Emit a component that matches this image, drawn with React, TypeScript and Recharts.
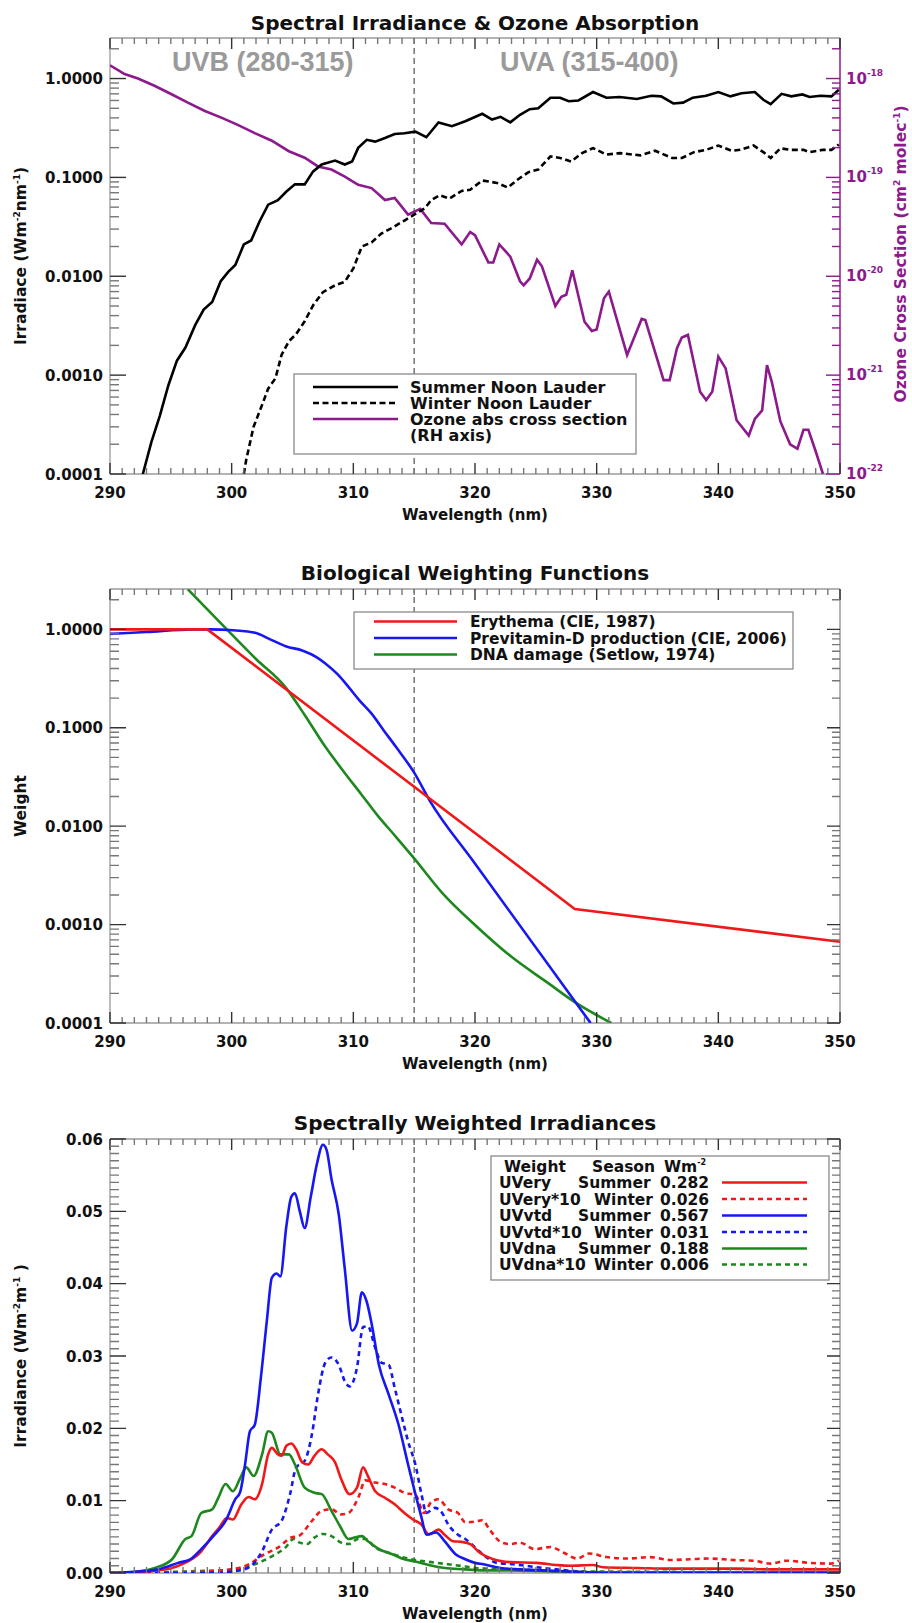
import React from 'react';
import { LineChart, Line, XAxis, YAxis, ReferenceLine } from 'recharts';

type Pt = { wl: number; v: number };
const pts = (a: number[][]): Pt[] => a.map(([wl, v]) => ({ wl, v }));

// ---------------- Panel 1: spectral irradiance (W m-2 nm-1) & ozone cross section (cm2 molec-1)
const summerNoonLauder = pts([
  [292.7, 1.0e-4], [293.4, 2.1e-4], [294.1, 3.9e-4], [294.8, 7.9e-4], [295.5, 1.4e-3], [296.2, 1.9e-3],
  [297.0, 3.2e-3], [297.7, 4.6e-3], [298.4, 5.5e-3], [299.1, 8.9e-3], [299.7, 0.011], [300.3, 0.013],
  [301.0, 0.021], [301.6, 0.023], [302.3, 0.036], [303.0, 0.053], [303.8, 0.059], [304.5, 0.072],
  [305.2, 0.085], [306.0, 0.085], [306.7, 0.115], [307.4, 0.135], [308.5, 0.148], [309.3, 0.135],
  [309.9, 0.145], [310.4, 0.199], [311.1, 0.24], [311.8, 0.23], [312.6, 0.25], [313.4, 0.275],
  [314.2, 0.28], [315.1, 0.29], [316.0, 0.255], [317.0, 0.36], [318.1, 0.33], [319.2, 0.37],
  [320.6, 0.44], [321.4, 0.385], [322.1, 0.41], [322.9, 0.36], [323.7, 0.43], [324.5, 0.49],
  [325.2, 0.5], [326.2, 0.64], [327.0, 0.64], [327.7, 0.59], [328.5, 0.6], [329.7, 0.73],
  [330.8, 0.64], [331.9, 0.65], [333.3, 0.62], [334.5, 0.67], [335.3, 0.66], [336.3, 0.56],
  [337.1, 0.57], [337.9, 0.64], [339.0, 0.67], [340.0, 0.73], [341.0, 0.66], [341.9, 0.71],
  [343.0, 0.73], [343.7, 0.61], [344.3, 0.55], [345.2, 0.7], [346.0, 0.66], [346.9, 0.69],
  [347.5, 0.65], [348.4, 0.67], [349.3, 0.66], [349.9, 0.77],
]);
const winterNoonLauder = pts([
  [301.0, 1.0e-4], [301.2, 1.4e-4], [301.8, 3.0e-4], [302.5, 5.0e-4], [303.0, 7.3e-4], [303.6, 9.3e-4],
  [304.1, 1.6e-3], [304.7, 2.2e-3], [305.3, 2.6e-3], [306.0, 3.5e-3], [306.7, 5.1e-3], [307.5, 6.9e-3],
  [308.5, 8.1e-3], [309.3, 8.8e-3], [310.0, 0.012], [310.7, 0.02], [311.5, 0.022], [312.3, 0.027],
  [313.2, 0.031], [314.1, 0.036], [315.0, 0.042], [315.9, 0.049], [316.4, 0.059], [317.1, 0.066],
  [317.9, 0.061], [318.9, 0.073], [319.6, 0.075], [320.6, 0.093], [321.8, 0.088], [322.7, 0.079],
  [323.6, 0.097], [324.4, 0.113], [325.2, 0.12], [326.2, 0.163], [327.0, 0.157], [327.9, 0.145],
  [328.8, 0.176], [329.7, 0.198], [330.8, 0.17], [331.9, 0.176], [333.6, 0.167], [334.8, 0.186],
  [336.2, 0.157], [337.0, 0.157], [338.0, 0.18], [339.0, 0.19], [340.0, 0.21], [341.1, 0.186],
  [341.8, 0.19], [342.9, 0.21], [343.7, 0.18], [344.3, 0.157], [345.1, 0.197], [345.9, 0.19],
  [347.0, 0.19], [347.5, 0.18], [348.6, 0.19], [349.3, 0.19], [349.9, 0.215],
]);
const ozoneCrossSection = pts([
  [290.0, 1.36e-18], [291.2, 1.11e-18], [292.3, 1.0e-18], [293.7, 8.4e-19], [295.1, 6.9e-19],
  [296.4, 5.7e-19], [297.8, 4.7e-19], [299.2, 4.0e-19], [300.5, 3.4e-19], [301.9, 2.8e-19],
  [303.3, 2.35e-19], [304.7, 1.84e-19], [306.0, 1.58e-19], [307.1, 1.29e-19], [308.2, 1.2e-19],
  [309.3, 1.02e-19], [310.4, 8.4e-20], [311.5, 7.8e-20], [312.6, 5.9e-20], [313.4, 6.2e-20],
  [314.5, 4.2e-20], [315.5, 4.8e-20], [316.4, 3.45e-20], [317.5, 3.4e-20], [318.9, 2.1e-20],
  [319.6, 2.8e-20], [320.0, 2.6e-20], [321.1, 1.38e-20], [321.5, 1.38e-20], [322.0, 2.1e-20],
  [322.9, 1.58e-20], [323.7, 8.9e-21], [324.0, 8.1e-21], [324.5, 9.5e-21], [325.1, 1.47e-20],
  [325.5, 1.26e-20], [326.6, 5.0e-21], [327.1, 6.2e-21], [327.5, 6.5e-21], [328.0, 1.15e-20],
  [329.0, 3.47e-21], [329.6, 2.8e-21], [330.0, 2.9e-21], [330.6, 6.0e-21], [331.0, 7.0e-21],
  [332.5, 1.6e-21], [333.2, 2.6e-21], [333.7, 3.7e-21], [334.0, 3.6e-21], [335.5, 8.9e-22],
  [336.0, 8.9e-22], [336.6, 1.87e-21], [337.0, 2.4e-21], [337.5, 2.55e-21], [338.5, 6.8e-22],
  [339.0, 5.6e-22], [339.5, 6.8e-22], [340.0, 1.54e-21], [340.6, 1.17e-21], [341.5, 3.5e-22],
  [342.5, 2.45e-22], [343.0, 3.6e-22], [343.6, 4.4e-22], [344.0, 1.26e-21], [344.4, 8.5e-22],
  [345.1, 3.4e-22], [345.9, 2.0e-22], [346.5, 1.8e-22], [347.0, 2.8e-22], [347.4, 2.8e-22],
  [348.0, 1.7e-22], [348.6, 1.0e-22],
]);

// ---------------- Panel 2: biological weighting functions
const erythemaCIE1987 = pts([[290, 1.0], [298, 1.0], [328.2, 1.44e-3], [350, 6.7e-4]]);
const previtaminD = pts([
  [290, 0.9], [293, 0.94], [296.8, 1.0], [298.2, 1.0], [300.1, 0.98], [302.0, 0.92], [303.0, 0.81],
  [304.5, 0.67], [305.8, 0.61], [307.0, 0.52], [307.7, 0.45], [308.7, 0.35], [309.6, 0.26],
  [310.5, 0.19], [311.5, 0.139], [312.5, 0.094], [313.5, 0.064], [315.0, 0.035], [316.3, 0.018],
  [319.8, 4.5e-3], [329.5, 1.0e-4],
]);
const dnaSetlow = pts([
  [296.4, 2.55], [299.6, 1.0], [302.0, 0.5], [304.4, 0.26], [306.0, 0.135], [307.7, 0.064],
  [309.2, 0.036], [310.6, 0.0215], [312.0, 0.0128], [313.5, 7.8e-3], [315.0, 4.7e-3],
  [317.3, 2.1e-3], [320.2, 9.4e-4], [323.0, 4.7e-4], [325.9, 2.6e-4], [328.3, 1.6e-4], [331.2, 1.0e-4],
]);

// ---------------- Panel 3: spectrally weighted irradiances
const uveSummer = pts([
  [290, 0], [293.7, 0.0003], [295.9, 0.0012], [297.5, 0.003], [298.4, 0.0051], [299.0, 0.0063],
  [299.6, 0.0076], [300.1, 0.0074], [300.8, 0.0095], [301.4, 0.0105], [301.9, 0.0102], [302.5, 0.0123],
  [303.0, 0.0164], [303.3, 0.0173], [303.8, 0.0164], [304.1, 0.0162], [304.5, 0.0176], [304.9, 0.0179],
  [305.3, 0.0171], [305.8, 0.0153], [306.3, 0.015], [306.8, 0.0162], [307.4, 0.0171], [307.9, 0.0164],
  [308.5, 0.0153], [309.0, 0.013], [309.7, 0.0109], [310.3, 0.0118], [310.8, 0.0146], [311.2, 0.0134],
  [311.8, 0.0113], [312.6, 0.0104], [313.4, 0.0095], [314.2, 0.0083], [314.9, 0.0074], [315.6, 0.0067],
  [316.2, 0.0053], [317.0, 0.006], [317.5, 0.0053], [318.2, 0.0044], [318.9, 0.0043], [319.6, 0.004],
  [320.4, 0.0028], [321.5, 0.0019], [322.9, 0.0015], [325.1, 0.0014], [326.7, 0.0011], [327.8, 0.001],
  [329.7, 0.0011], [330.5, 0.0008], [333.3, 0.0007], [336.0, 0.0006], [338.8, 0.0006], [341.5, 0.0006],
  [344.3, 0.0005], [347.0, 0.0005], [350, 0.0005],
]);
const uveWinter10 = pts([
  [290, 0], [297.8, 0.0002], [300.0, 0.0005], [301.4, 0.0012], [302.7, 0.0026], [303.8, 0.0035],
  [304.9, 0.0049], [305.5, 0.0051], [306.6, 0.0072], [307.4, 0.0086], [308.2, 0.0088], [309.0, 0.0081],
  [309.6, 0.0083], [310.4, 0.0104], [311.0, 0.0128], [311.8, 0.0125], [312.6, 0.0123], [313.4, 0.0118],
  [314.2, 0.0111], [315.1, 0.0108], [315.8, 0.0083], [316.4, 0.0098], [317.0, 0.0102], [317.8, 0.0088],
  [318.6, 0.0083], [319.2, 0.007], [320.0, 0.0071], [320.6, 0.0073], [321.2, 0.006], [322.2, 0.0042],
  [322.9, 0.004], [323.7, 0.0042], [324.9, 0.0033], [326.2, 0.0036], [327.3, 0.0028], [328.4, 0.002],
  [329.4, 0.0027], [330.8, 0.0022], [332.5, 0.002], [334.4, 0.0022], [336.0, 0.0018], [337.7, 0.0019],
  [339.3, 0.002], [341.2, 0.0018], [342.9, 0.0017], [344.3, 0.0013], [345.6, 0.0017], [347.5, 0.0014],
  [349.2, 0.0013], [349.9, 0.0017],
]);
const uvdSummer = pts([
  [290, 0], [292.3, 0.0002], [294.2, 0.0006], [295.6, 0.0014], [296.6, 0.0019], [297.5, 0.0033],
  [298.6, 0.0053], [299.5, 0.0072], [300.3, 0.0102], [300.7, 0.0112], [301.1, 0.015], [301.5, 0.0196],
  [301.9, 0.0205], [302.4, 0.027], [302.9, 0.035], [303.3, 0.0408], [303.7, 0.0414], [304.0, 0.041],
  [304.5, 0.048], [304.9, 0.052], [305.2, 0.0525], [305.6, 0.05], [306.0, 0.0477], [306.5, 0.052],
  [307.0, 0.0565], [307.5, 0.0592], [307.8, 0.0585], [308.2, 0.0545], [308.8, 0.0496], [309.3, 0.042],
  [309.9, 0.0335], [310.3, 0.0345], [310.7, 0.0388], [311.1, 0.0375], [311.5, 0.0345], [312.1, 0.0288],
  [312.9, 0.0247], [313.7, 0.0206], [314.5, 0.015], [315.1, 0.0109], [315.6, 0.0077], [316.0, 0.0053],
  [316.8, 0.0056], [317.5, 0.0044], [318.4, 0.0026], [319.2, 0.0019], [320.0, 0.0014], [320.7, 0.0012],
  [322.1, 0.0007], [323.7, 0.0005], [326.4, 0.0003], [329.2, 0.0001], [330.5, 0], [350, 0],
]);
const uvdWinter10 = pts([
  [290, 0], [298.0, 0], [300.5, 0.0003], [301.6, 0.001], [302.5, 0.003], [303.3, 0.006], [304.1, 0.0072],
  [304.8, 0.0109], [305.3, 0.0146], [306.0, 0.0155], [306.6, 0.0192], [307.1, 0.0247], [307.7, 0.0291],
  [308.2, 0.0298], [308.8, 0.0288], [309.3, 0.0265], [309.7, 0.0258], [310.3, 0.0284], [310.8, 0.034],
  [311.2, 0.0341], [311.8, 0.0311], [312.3, 0.0291], [312.9, 0.0288], [313.4, 0.0256], [314.0, 0.0215],
  [314.5, 0.0182], [315.1, 0.015], [315.6, 0.0109], [316.0, 0.0083], [316.7, 0.009], [317.3, 0.0083],
  [317.8, 0.0067], [318.6, 0.0053], [319.2, 0.0047], [319.7, 0.004], [320.7, 0.0025], [321.8, 0.0014],
  [323.2, 0.0012], [325.1, 0.0008], [326.7, 0.0005], [327.8, 0.0003], [330.5, 0], [350, 0],
]);
const dnaSummer = pts([
  [290, 0], [292.3, 0.0002], [293.7, 0.0007], [295.1, 0.0019], [296.2, 0.0047], [296.7, 0.0051],
  [297.5, 0.0083], [298.4, 0.0088], [298.9, 0.0104], [299.5, 0.0123], [300.1, 0.0113], [300.7, 0.0131],
  [301.2, 0.0146], [301.8, 0.0134], [302.5, 0.0164], [303.0, 0.0196], [303.3, 0.0194], [304.0, 0.0164],
  [304.7, 0.0164], [305.2, 0.015], [306.0, 0.0118], [306.8, 0.0111], [307.4, 0.0109], [308.2, 0.0086],
  [308.9, 0.0065], [309.6, 0.0047], [310.1, 0.0049], [310.7, 0.0051], [311.2, 0.0044], [312.1, 0.0033],
  [313.2, 0.0026], [314.2, 0.0019], [315.1, 0.0016], [316.2, 0.0011], [317.5, 0.0007], [319.2, 0.0005],
  [320.0, 0.0004], [325.0, 0.0003], [330.0, 0.0001], [350, 0.0001],
]);
const dnaWinter10 = pts([
  [290, 0], [297.8, 0.0003], [300.5, 0.0005], [301.9, 0.0012], [303.3, 0.0023], [304.4, 0.0035],
  [305.1, 0.0047], [305.6, 0.0042], [306.2, 0.004], [306.8, 0.0049], [307.5, 0.0054], [308.2, 0.0051],
  [309.0, 0.0042], [309.6, 0.004], [310.4, 0.0047], [311.0, 0.0047], [311.8, 0.0035], [312.9, 0.0028],
  [314.0, 0.0022], [315.1, 0.0018], [316.4, 0.0015], [317.8, 0.0012], [319.2, 0.0009], [320.0, 0.0007],
  [325.0, 0.0004], [330.0, 0.0002], [350, 0.0001],
]);

// ---------------- Axes / labels
const xMajorTicks = [290, 300, 310, 320, 330, 340, 350];
const xTicks: number[] = [];
for (let w = 290; w <= 350; w++) xTicks.push(w);
const irrMajorTicks = [0.0001, 0.001, 0.01, 0.1, 1];
const ozoneMajorTicks = [1e-22, 1e-21, 1e-20, 1e-19, 1e-18];

const legend1Labels = ['Summer Noon Lauder', 'Winter Noon Lauder', 'Ozone abs cross section', '(RH axis)'];
const legend2Labels = ['Erythema (CIE, 1987)', 'Previtamin-D production (CIE, 2006)', 'DNA damage (Setlow, 1974)'];
const legend3Weights = ['UVery', 'UVery*10', 'UVvtd', 'UVvtd*10', 'UVdna', 'UVdna*10'];
const legend3Seasons = ['Summer', 'Winter', 'Summer', 'Winter', 'Summer', 'Winter'];
const legend3Values = ['0.282', '0.026', '0.567', '0.031', '0.188', '0.006'];

// ---------------- Styles / layout
const FONT = '"DejaVu Sans", "Liberation Sans", sans-serif';
const PURPLE = '#8c1a8c';
const RED = '#f01818';
const BLUE = '#1717f2';
const GREEN = '#1e881e';
const BOX = '#9a9a9a';
const TK = '#333';
const TKm = '#777';
const PLOT_L = 110;
const PLOT_R = 840;
const LW = 2.6;
const LOG_MAX = 2.57;
const LIN_MAX = 0.06;

const logMinors = (majors: number[], max: number) => {
  const out: number[] = [];
  majors.forEach((d) => {
    for (let k = 1; k <= 9; k++) {
      const v = d * k;
      if (v <= max * 1.0000001) out.push(v);
    }
  });
  return out;
};
const isDecade = (v: number) => Math.abs(Math.log10(v) - Math.round(Math.log10(v))) < 1e-6;
const isHundredth = (v: number) => Math.abs(v * 100 - Math.round(v * 100)) < 1e-6;

const irrTicks = logMinors(irrMajorTicks, LOG_MAX);
const ozTicks = logMinors(ozoneMajorTicks, LOG_MAX * 1e-18);
const linTicks: number[] = [];
for (let i = 0; i <= 60; i++) linTicks.push(i / 1000);

// ---- axis tick renderers: inward marks on both frame sides + bold labels (positions from Recharts scales)
const makeXTick = (top: number, bottom: number) => (props: any) => {
  const { x, payload } = props;
  const v = payload.value as number;
  const major = xMajorTicks.includes(v);
  const len = major ? 11 : 6;
  return (
    <g>
      <path d={`M${x},${bottom}V${bottom - len}M${x},${top}V${top + len}`} stroke={major ? TK : TKm} strokeWidth={1.4} fill="none" />
      {major && (
        <text x={x} y={bottom + 24} textAnchor="middle" fontFamily={FONT} fontWeight="bold" fontSize={15} fill="#111">{v}</text>
      )}
    </g>
  );
};
const makeYTick = (isMajor: (v: number) => boolean, fmt: (v: number) => string, mirror: boolean) => (props: any) => {
  const { y, payload } = props;
  const v = payload.value as number;
  const major = isMajor(v);
  let d = `M${PLOT_L},${y}H${PLOT_L + (major ? 16 : 9)}`;
  if (mirror) d += `M${PLOT_R},${y}H${PLOT_R - (major ? 13 : 8)}`;
  return (
    <g>
      <path d={d} stroke={major ? TK : TKm} strokeWidth={1.4} fill="none" />
      {major && (
        <text x={103} y={y + 5.5} textAnchor="end" fontFamily={FONT} fontWeight="bold" fontSize={15} fill="#111">{fmt(v)}</text>
      )}
    </g>
  );
};
const ozoneTick = (props: any) => {
  const { y, payload } = props;
  const v = payload.value as number;
  const major = isDecade(v);
  const e = Math.round(Math.log10(v));
  return (
    <g>
      <path d={`M${PLOT_R},${y}H${PLOT_R - (major ? 14 : 8)}`} stroke={PURPLE} strokeWidth={1.4} fill="none" />
      {major && (
        <text x={846} y={y + 5} textAnchor="start" fontFamily={FONT} fontWeight="bold" fontSize={15} fill={PURPLE}>
          10<tspan dy={-8} fontSize={9}>{String(e)}</tspan>
        </text>
      )}
    </g>
  );
};

const txt = { fontFamily: FONT, fontWeight: 'bold' as const };
const hiddenAxis = { tickLine: false, axisLine: false, tickSize: 0, tickMargin: 0, interval: 0 as const };

const frameLines = (yMin: number, yMax: number, rightColor: string) => [
  <ReferenceLine key="fl" yAxisId="left" x={290} stroke={BOX} strokeWidth={1.3} ifOverflow="visible" />,
  <ReferenceLine key="fb" yAxisId="left" y={yMin} stroke={BOX} strokeWidth={1.3} ifOverflow="visible" />,
  <ReferenceLine key="ft" yAxisId="left" y={yMax} stroke={BOX} strokeWidth={1.3} ifOverflow="visible" />,
  <ReferenceLine key="fr" yAxisId="left" x={350} stroke={rightColor} strokeWidth={1.5} ifOverflow="visible" />,
  <ReferenceLine key="uvb" yAxisId="left" x={315} stroke="#6a6a6a" strokeWidth={1.4} strokeDasharray="6 4" />,
];

function Panel1() {
  return (
    <LineChart width={912} height={540} margin={{ top: 38, right: 0, left: 0, bottom: 0 }}>
      <XAxis type="number" dataKey="wl" domain={[290, 350]} allowDataOverflow ticks={xTicks} height={66} tick={makeXTick(38, 474)} {...hiddenAxis} />
      <YAxis yAxisId="left" type="number" scale="log" domain={[1e-4, LOG_MAX]} allowDataOverflow ticks={irrTicks} width={110}
        tick={makeYTick(isDecade, (v) => v.toFixed(4), false)} {...hiddenAxis} />
      <YAxis yAxisId="right" orientation="right" type="number" scale="log" domain={[1e-22, LOG_MAX * 1e-18]} allowDataOverflow
        ticks={ozTicks} width={72} tick={ozoneTick} {...hiddenAxis} />
      {frameLines(1e-4, LOG_MAX, PURPLE)}
      <Line yAxisId="right" data={ozoneCrossSection} dataKey="v" type="linear" stroke={PURPLE} strokeWidth={LW} dot={false} isAnimationActive={false} />
      <Line yAxisId="left" data={winterNoonLauder} dataKey="v" type="linear" stroke="#000" strokeWidth={LW} strokeDasharray="6 3.5" dot={false} isAnimationActive={false} />
      <Line yAxisId="left" data={summerNoonLauder} dataKey="v" type="linear" stroke="#000" strokeWidth={LW} dot={false} isAnimationActive={false} />
    </LineChart>
  );
}

function Panel2() {
  return (
    <LineChart width={912} height={540} margin={{ top: 44, right: 72, left: 0, bottom: 0 }}>
      <XAxis type="number" dataKey="wl" domain={[290, 350]} allowDataOverflow ticks={xTicks} height={62} tick={makeXTick(44, 478)} {...hiddenAxis} />
      <YAxis yAxisId="left" type="number" scale="log" domain={[1e-4, LOG_MAX]} allowDataOverflow ticks={irrTicks} width={110}
        tick={makeYTick(isDecade, (v) => v.toFixed(4), true)} {...hiddenAxis} />
      {frameLines(1e-4, LOG_MAX, BOX)}
      <Line yAxisId="left" data={dnaSetlow} dataKey="v" type="monotone" stroke={GREEN} strokeWidth={LW} dot={false} isAnimationActive={false} />
      <Line yAxisId="left" data={previtaminD} dataKey="v" type="monotone" stroke={BLUE} strokeWidth={LW} dot={false} isAnimationActive={false} />
      <Line yAxisId="left" data={erythemaCIE1987} dataKey="v" type="linear" stroke={RED} strokeWidth={LW} dot={false} isAnimationActive={false} />
    </LineChart>
  );
}

function Panel3() {
  const common = { yAxisId: 'left', dataKey: 'v', type: 'monotone' as const, strokeWidth: LW, dot: false, isAnimationActive: false };
  return (
    <LineChart width={912} height={528} margin={{ top: 44, right: 72, left: 0, bottom: 0 }}>
      <XAxis type="number" dataKey="wl" domain={[290, 350]} allowDataOverflow ticks={xTicks} height={50} tick={makeXTick(44, 478)} {...hiddenAxis} />
      <YAxis yAxisId="left" type="number" domain={[0, LIN_MAX]} allowDataOverflow ticks={linTicks} width={110}
        tick={makeYTick(isHundredth, (v) => v.toFixed(2), true)} {...hiddenAxis} />
      {frameLines(0, LIN_MAX, BOX)}
      <Line {...common} data={dnaWinter10} stroke={GREEN} strokeDasharray="5 4" />
      <Line {...common} data={uveWinter10} stroke={RED} strokeDasharray="5 4" />
      <Line {...common} data={uvdWinter10} stroke={BLUE} strokeDasharray="5 4" />
      <Line {...common} data={dnaSummer} stroke={GREEN} />
      <Line {...common} data={uveSummer} stroke={RED} />
      <Line {...common} data={uvdSummer} stroke={BLUE} />
    </LineChart>
  );
}

function Overlay() {
  const l1Styles = [
    { stroke: '#000', dash: undefined as string | undefined },
    { stroke: '#000', dash: '6 3.5' },
    { stroke: PURPLE, dash: undefined as string | undefined },
  ];
  const l2Colors = [RED, BLUE, GREEN];
  const l3Styles = [
    { stroke: RED, dash: undefined as string | undefined },
    { stroke: RED, dash: '5 4' },
    { stroke: BLUE, dash: undefined },
    { stroke: BLUE, dash: '5 4' },
    { stroke: GREEN, dash: undefined },
    { stroke: GREEN, dash: '5 4' },
  ];
  const rows3 = [1188, 1204.5, 1221, 1237.5, 1254, 1270];
  return (
    <svg width={912} height={1623} style={{ position: 'absolute', left: 0, top: 0, pointerEvents: 'none' }}>
      <text x={475} y={30} textAnchor="middle" fontSize={20} fill="#111" {...txt}>Spectral Irradiance &amp; Ozone Absorption</text>
      <text x={475} y={580} textAnchor="middle" fontSize={20} fill="#111" {...txt}>Biological Weighting Functions</text>
      <text x={475} y={1130} textAnchor="middle" fontSize={20} fill="#111" {...txt}>Spectrally Weighted Irradiances</text>
      <text x={475} y={520} textAnchor="middle" fontSize={15} fill="#111" {...txt}>Wavelength (nm)</text>
      <text x={475} y={1069} textAnchor="middle" fontSize={15} fill="#111" {...txt}>Wavelength (nm)</text>
      <text x={475} y={1619} textAnchor="middle" fontSize={15} fill="#111" {...txt}>Wavelength (nm)</text>
      <text transform="translate(25.5,256) rotate(-90)" textAnchor="middle" fontSize={15.5} fill="#111" {...txt}>
        Irradiace (Wm<tspan dy={-6} fontSize={9}>-2</tspan><tspan dy={6}>nm</tspan><tspan dy={-6} fontSize={9}>-1</tspan><tspan dy={6}>)</tspan>
      </text>
      <text transform="translate(25.5,806) rotate(-90)" textAnchor="middle" fontSize={15.5} fill="#111" {...txt}>Weight</text>
      <text transform="translate(25.5,1356) rotate(-90)" textAnchor="middle" fontSize={15.5} fill="#111" {...txt}>
        Irradiance (Wm<tspan dy={-6} fontSize={9}>-2</tspan><tspan dy={6}>m</tspan><tspan dy={-6} fontSize={9}>-1</tspan><tspan dy={6}> )</tspan>
      </text>
      <text transform="translate(905.5,254) rotate(-90)" textAnchor="middle" fontSize={15.5} fill={PURPLE} {...txt}>
        Ozone Cross Section (cm<tspan dy={-6} fontSize={9}>2</tspan><tspan dy={6}> molec</tspan><tspan dy={-6} fontSize={9}>-1</tspan><tspan dy={6}>)</tspan>
      </text>
      <text x={172} y={71} fontFamily='"Liberation Sans", Arial, sans-serif' fontWeight="bold" fontSize={27} fill="#9a9a9a">UVB (280-315)</text>
      <text x={500} y={71} fontFamily='"Liberation Sans", Arial, sans-serif' fontWeight="bold" fontSize={27} fill="#9a9a9a">UVA (315-400)</text>

      <rect x={294} y={374} width={342} height={80} fill="#fff" stroke="#8a8a8a" strokeWidth={1.3} />
      {l1Styles.map((s, i) => (
        <line key={i} x1={313} x2={398} y1={387 + i * 16} y2={387 + i * 16} stroke={s.stroke} strokeWidth={LW} strokeDasharray={s.dash} />
      ))}
      {legend1Labels.map((t, i) => (
        <text key={t} x={410} y={393 + i * 16} fontSize={16} fill="#111" {...txt}>{t}</text>
      ))}

      <rect x={354} y={612} width={439} height={57} fill="#fff" stroke="#8a8a8a" strokeWidth={1.3} />
      {l2Colors.map((c, i) => (
        <line key={i} x1={374} x2={457} y1={621.5 + i * 16.5} y2={621.5 + i * 16.5} stroke={c} strokeWidth={LW} />
      ))}
      {legend2Labels.map((t, i) => (
        <text key={t} x={470} y={627 + i * 16.5} fontSize={15.5} fill="#111" {...txt}>{t}</text>
      ))}

      <rect x={491} y={1156} width={338} height={124} fill="#fff" stroke="#8a8a8a" strokeWidth={1.3} />
      <text x={504} y={1172} fontSize={15.5} fill="#111" {...txt}>Weight</text>
      <text x={592} y={1172} fontSize={15.5} fill="#111" {...txt}>Season</text>
      <text x={664} y={1172} fontSize={15.5} fill="#111" {...txt}>Wm<tspan dy={-7} fontSize={8}>-2</tspan></text>
      {legend3Weights.map((w, i) => (
        <g key={w}>
          <text x={499} y={rows3[i]} fontSize={15.5} fill="#111" {...txt}>{w}</text>
          <text x={legend3Seasons[i] === 'Summer' ? 578 : 594} y={rows3[i]} fontSize={15.5} fill="#111" {...txt}>{legend3Seasons[i]}</text>
          <text x={709} y={rows3[i]} textAnchor="end" fontSize={15.5} fill="#111" {...txt}>{legend3Values[i]}</text>
          <line x1={722} x2={807} y1={rows3[i] - 5.5} y2={rows3[i] - 5.5} stroke={l3Styles[i].stroke} strokeWidth={LW} strokeDasharray={l3Styles[i].dash} />
        </g>
      ))}
    </svg>
  );
}

export default function App() {
  return (
    <div style={{ position: 'absolute', left: 0, top: 0, width: 912, height: 1623, background: '#fff', overflow: 'hidden' }}>
      <div style={{ position: 'absolute', left: 0, top: 0 }}><Panel1 /></div>
      <div style={{ position: 'absolute', left: 0, top: 545 }}><Panel2 /></div>
      <div style={{ position: 'absolute', left: 0, top: 1095 }}><Panel3 /></div>
      <Overlay />
    </div>
  );
}
